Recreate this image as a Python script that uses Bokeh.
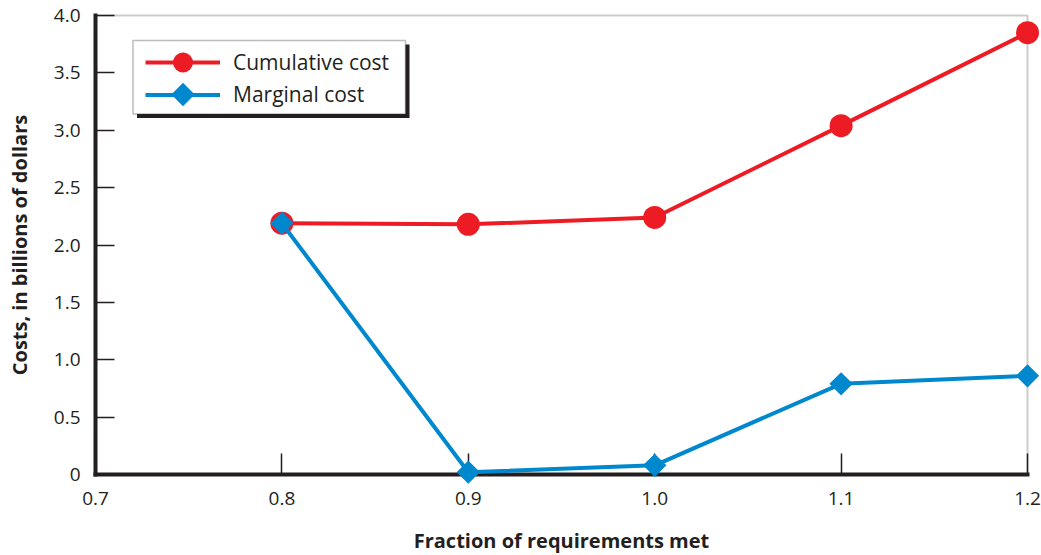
import numpy as np
from bokeh.plotting import figure
from bokeh.models import Range1d, FixedTicker, Legend, LegendItem, BoxAnnotation, LinearAxis
from bokeh.embed import file_html
from bokeh.resources import INLINE

# ---------------- data ----------------
fraction = [0.8, 0.9, 1.0, 1.1, 1.2]
cumulative_cost = [2.19, 2.18, 2.24, 3.04, 3.85]
marginal_cost = [2.19, 0.02, 0.08, 0.79, 0.86]
series_names = ["Cumulative cost", "Marginal cost"]
x_ticks = [0.7, 0.8, 0.9, 1.0, 1.1, 1.2]
x_tick_labels = ["0.7", "0.8", "0.9", "1.0", "1.1", "1.2"]
y_ticks = [0.0, 0.5, 1.0, 1.5, 2.0, 2.5, 3.0, 3.5, 4.0]
y_tick_labels = ["0", "0.5", "1.0", "1.5", "2.0", "2.5", "3.0", "3.5", "4.0"]
x_title = "Fraction of requirements met"
y_title = "Costs, in billions of dollars"

# ---------------- style / layout ----------------
RED = "#ED1C24"
BLUE = "#0088CE"
INK = "#231F20"
FRAME = "#58595B"
FONT = "Open Sans"

W, H = 1041, 555
# position of the data box inside the canvas (px)
BOX_L, BOX_R, BOX_T, BOX_B = 95, 1027, 15, 474
X0, X1, Y0, Y1 = 0.7, 1.2, 0.0, 4.0
kx = (BOX_R - BOX_L) / (X1 - X0)
ky = (BOX_B - BOX_T) / (Y1 - Y0)


def dx(px):
    return X0 + (px - BOX_L) / kx


def dy(py):
    return Y1 - (py - BOX_T) / ky


p = figure(
    width=W, height=H,
    x_range=Range1d(X0 - BOX_L / kx, X1 + (W - BOX_R) / kx),
    y_range=Range1d(Y0 - (H - BOX_B) / ky, Y1 + BOX_T / ky),
    output_backend="svg", toolbar_location=None,
    x_axis_location=None, y_axis_location=None,
    min_border=0,
)
p.outline_line_color = None
p.background_fill_color = "white"
p.border_fill_color = "white"
for g in p.grid:
    g.visible = False

# frame (top & right border)
p.add_layout(BoxAnnotation(left=X0, right=X1, bottom=Y0, top=Y1,
                           fill_color=None, line_color=FRAME, line_width=2,
                           level="underlay"))


def style_axis(ax, tick_in, label_standoff, title_standoff):
    ax.axis_line_width = 4
    ax.axis_line_color = INK
    ax.axis_line_cap = "square"
    ax.major_tick_in = tick_in
    ax.major_tick_out = 0
    ax.minor_tick_in = 0
    ax.minor_tick_out = 0
    ax.major_tick_line_color = INK
    ax.major_tick_line_width = 1.5
    ax.major_label_text_font = FONT
    ax.major_label_text_font_size = "19px"
    ax.major_label_text_color = INK
    ax.major_label_standoff = label_standoff
    ax.axis_label_text_font = FONT
    ax.axis_label_text_font_style = "bold"
    ax.axis_label_text_font_size = "20px"
    ax.axis_label_text_color = INK
    ax.axis_label_standoff = title_standoff


xaxis = LinearAxis(fixed_location=Y0, bounds=(X0, X1),
                   ticker=FixedTicker(ticks=x_ticks),
                   major_label_overrides=dict(zip(x_ticks, x_tick_labels)),
                   axis_label=x_title)
style_axis(xaxis, 21, 17, 19)
yaxis = LinearAxis(fixed_location=X0, bounds=(Y0, Y1),
                   ticker=FixedTicker(ticks=y_ticks),
                   major_label_overrides=dict(zip(y_ticks, y_tick_labels)),
                   axis_label=y_title)
style_axis(yaxis, 19, 15, 18)
p.add_layout(xaxis, "below")
p.add_layout(yaxis, "left")

# series (drawn above the axes, as in the reference)
r1l = p.line(fraction, cumulative_cost, line_color=RED, line_width=4,
             level="overlay")
r1m = p.scatter(fraction, cumulative_cost, marker="circle", size=23,
                fill_color=RED, line_color=None, level="overlay")
r2l = p.line(fraction, marginal_cost, line_color=BLUE, line_width=4,
             level="overlay")
r2m = p.scatter(fraction, marginal_cost, marker="square", angle=np.pi / 4,
                size=16.5, fill_color=BLUE, line_color=None, level="overlay")

# legend box with drop shadow
LG_L, LG_R, LG_T, LG_B = 132.5, 405, 40, 113.5
p.add_layout(BoxAnnotation(left=dx(LG_L + 4), right=dx(LG_R + 4),
                           top=dy(LG_T + 4), bottom=dy(LG_B + 4),
                           fill_color=INK, fill_alpha=1, line_color=None))
p.add_layout(BoxAnnotation(left=dx(LG_L), right=dx(LG_R),
                           top=dy(LG_T), bottom=dy(LG_B),
                           fill_color="white", fill_alpha=1,
                           line_color=INK, line_width=1.5))

GLYPH_L, GLYPH_W = 145, 75
ROW1, ROW2 = 61.5, 94


def make_legend(label, renderers, row_center, glyph_h):
    return Legend(
        items=[LegendItem(label=label, renderers=renderers)],
        location=(GLYPH_L, H - (row_center + glyph_h / 2)),
        glyph_width=GLYPH_W, glyph_height=glyph_h, label_height=glyph_h,
        label_standoff=13, padding=0, margin=0, spacing=0,
        border_line_color=None, background_fill_alpha=0,
        label_text_font=FONT, label_text_font_size="21px",
        label_text_color=INK,
    )


p.add_layout(make_legend(series_names[0], [r1l, r1m], ROW1, 50))
p.add_layout(make_legend(series_names[1], [r2l], ROW2, 41))
# diamond swatch for the second legend row (legend markers ignore rotation)
p.scatter([dx(GLYPH_L + GLYPH_W / 2)], [dy(ROW2)], marker="square",
          angle=np.pi / 4, size=16.5, fill_color=BLUE, line_color=None,
          level="overlay")

open("out.html", "w").write(file_html(p, INLINE))
